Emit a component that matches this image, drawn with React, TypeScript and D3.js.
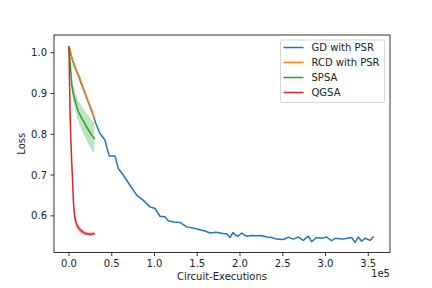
import * as d3 from "d3";

// circuit executions (x) and mean loss for each optimizer
const gdX = [0, 3500, 7000, 10500, 14000, 17500, 21000, 24500, 28000, 31500, 36250, 42100, 44400, 47130, 53790, 57650, 63500, 71330, 79170, 86890, 94720, 100570, 106410, 112260, 116120, 121970, 129800, 137640, 145350, 153190, 159000, 164890, 172000, 180090, 184500, 188280, 191780, 194500, 197630, 201950, 204500, 207800, 213000, 219500, 225000, 231190, 237000, 242880, 250600, 256450, 262300, 268150, 274000, 279840, 283820, 289660, 295510, 301360, 307210, 311060, 316000, 320770, 325500, 330590, 334450, 338300, 342280, 346140, 351990, 355850];
const gdY = [1.014, 0.986, 0.963, 0.947, 0.926, 0.907, 0.887, 0.868, 0.848, 0.826, 0.802, 0.786, 0.766, 0.747, 0.747, 0.716, 0.700, 0.675, 0.651, 0.638, 0.622, 0.618, 0.599, 0.598, 0.588, 0.585, 0.584, 0.573, 0.570, 0.566, 0.563, 0.558, 0.560, 0.557, 0.556, 0.547, 0.559, 0.553, 0.550, 0.558, 0.554, 0.550, 0.552, 0.551, 0.552, 0.548, 0.547, 0.543, 0.542, 0.548, 0.543, 0.548, 0.540, 0.550, 0.537, 0.547, 0.545, 0.548, 0.539, 0.545, 0.544, 0.543, 0.545, 0.547, 0.535, 0.548, 0.538, 0.545, 0.540, 0.548];

const rcdX = [0, 3200, 7000, 10000, 12900, 16700, 20000, 22600, 26500, 29600];
const rcdY = [1.014, 0.99, 0.966, 0.95, 0.937, 0.913, 0.895, 0.88, 0.86, 0.839];
const rcdSd = [0, 0.003, 0.004, 0.004, 0.004, 0.004, 0.004, 0.004, 0.004, 0.004];

const spsaX = [0, 2000, 3200, 5000, 7000, 9000, 11000, 13000, 15000, 17500, 20500, 23500, 26500, 29600];
const spsaY = [1.014, 0.958, 0.921, 0.9, 0.884, 0.868, 0.855, 0.847, 0.839, 0.83, 0.818, 0.808, 0.798, 0.79];
const spsaSd = [0, 0.012, 0.018, 0.02, 0.022, 0.024, 0.026, 0.028, 0.03, 0.031, 0.033, 0.035, 0.037, 0.038];

const qgsaX = [0, 600, 1200, 1800, 2400, 3200, 3900, 5000, 6000, 7000, 8500, 10000, 12000, 14000, 16000, 18000, 20000, 22000, 24000, 26000, 28000, 29600];
const qgsaY = [1.013, 0.93, 0.86, 0.81, 0.775, 0.73, 0.70, 0.642, 0.61, 0.594, 0.582, 0.574, 0.568, 0.564, 0.561, 0.558, 0.556, 0.556, 0.555, 0.555, 0.556, 0.556];
const qgsaSd = [0, 0.006, 0.008, 0.01, 0.011, 0.012, 0.012, 0.012, 0.012, 0.011, 0.01, 0.009, 0.008, 0.007, 0.006, 0.006, 0.005, 0.005, 0.005, 0.005, 0.005, 0.005];

const xTicks = [0, 50000, 100000, 150000, 200000, 250000, 300000, 350000];
const yTicks = [0.6, 0.7, 0.8, 0.9, 1.0];

const legendNames = ["GD with PSR", "RCD with PSR", "SPSA", "QGSA"];
const colors = ["#1f77b4", "#ff7f0e", "#2ca02c", "#d62728"];

const W = 432;
const H = 288;
const left = 54;
const right = 390;
const top = 35;
const bottom = 252.5;
const font = "DejaVu Sans, sans-serif";

type Pt = { x: number; y: number; sd: number };

const zip = (xs: number[], ys: number[], sds?: number[]): Pt[] =>
  xs.map((x, i) => ({ x, y: ys[i], sd: sds ? sds[i] : 0 }));

export default function App() {
  const x = d3.scaleLinear().domain([-17540, 375400]).range([left, right]);
  const y = d3.scaleLinear().domain([0.5102, 1.0434]).range([bottom, top]);

  const line = d3
    .line<Pt>()
    .x((d) => x(d.x))
    .y((d) => y(d.y));
  const band = d3
    .area<Pt>()
    .x((d) => x(d.x))
    .y0((d) => y(d.y - d.sd))
    .y1((d) => y(d.y + d.sd));

  const series = [
    { pts: zip(gdX, gdY), color: colors[0], band: false },
    { pts: zip(rcdX, rcdY, rcdSd), color: colors[1], band: true },
    { pts: zip(spsaX, spsaY, spsaSd), color: colors[2], band: true },
    { pts: zip(qgsaX, qgsaY, qgsaSd), color: colors[3], band: true },
  ];

  return (
    <svg
      width={W}
      height={H}
      style={{ position: "absolute", left: 0, top: 0, background: "#fff" }}
      fontFamily={font}
    >
      <defs>
        <clipPath id="plot">
          <rect x={left} y={top} width={right - left} height={bottom - top} />
        </clipPath>
      </defs>

      <g clipPath="url(#plot)">
        {series.map((s, i) =>
          s.band ? (
            <path key={"b" + i} d={band(s.pts) ?? ""} fill={s.color} fillOpacity={0.3} stroke="none" />
          ) : null
        )}
        {series.map((s, i) => (
          <path
            key={"l" + i}
            d={line(s.pts) ?? ""}
            fill="none"
            stroke={s.color}
            strokeWidth={1.5}
            strokeLinejoin="round"
            strokeLinecap="square"
          />
        ))}
      </g>

      {/* axes box */}
      <rect
        x={left}
        y={top}
        width={right - left}
        height={bottom - top}
        fill="none"
        stroke="#000"
        strokeWidth={0.8}
      />

      {/* x axis */}
      {xTicks.map((t) => (
        <g key={t} transform={`translate(${x(t)},${bottom})`}>
          <line y2={3.5} stroke="#000" strokeWidth={0.8} />
          <text y={14.5} textAnchor="middle" fontSize={10} fill="#222">
            {(t / 1e5).toFixed(1)}
          </text>
        </g>
      ))}
      <text x={right} y={276.5} textAnchor="end" fontSize={10} fill="#222">
        1e5
      </text>
      <text x={(left + right) / 2} y={280} textAnchor="middle" fontSize={10} fill="#222">
        Circuit-Executions
      </text>

      {/* y axis */}
      {yTicks.map((t) => (
        <g key={t} transform={`translate(${left},${y(t)})`}>
          <line x2={-3.5} stroke="#000" strokeWidth={0.8} />
          <text x={-7} dy="0.35em" textAnchor="end" fontSize={10} fill="#222">
            {t.toFixed(1)}
          </text>
        </g>
      ))}
      <text
        transform={`translate(25,${(top + bottom) / 2}) rotate(-90)`}
        textAnchor="middle"
        fontSize={10}
        fill="#222"
      >
        Loss
      </text>

      {/* legend */}
      <g transform="translate(280.5,40)">
        <rect width={104} height={62.5} rx={2} fill="#fff" fillOpacity={0.8} stroke="#ccc" strokeWidth={0.8} />
        {legendNames.map((name, i) => (
          <g key={name} transform={`translate(0,${7.5 + i * 15})`}>
            <line x1={3} x2={23} stroke={colors[i]} strokeWidth={1.5} />
            <text x={31} dy="0.35em" fontSize={10} fill="#222">
              {name}
            </text>
          </g>
        ))}
      </g>
    </svg>
  );
}
